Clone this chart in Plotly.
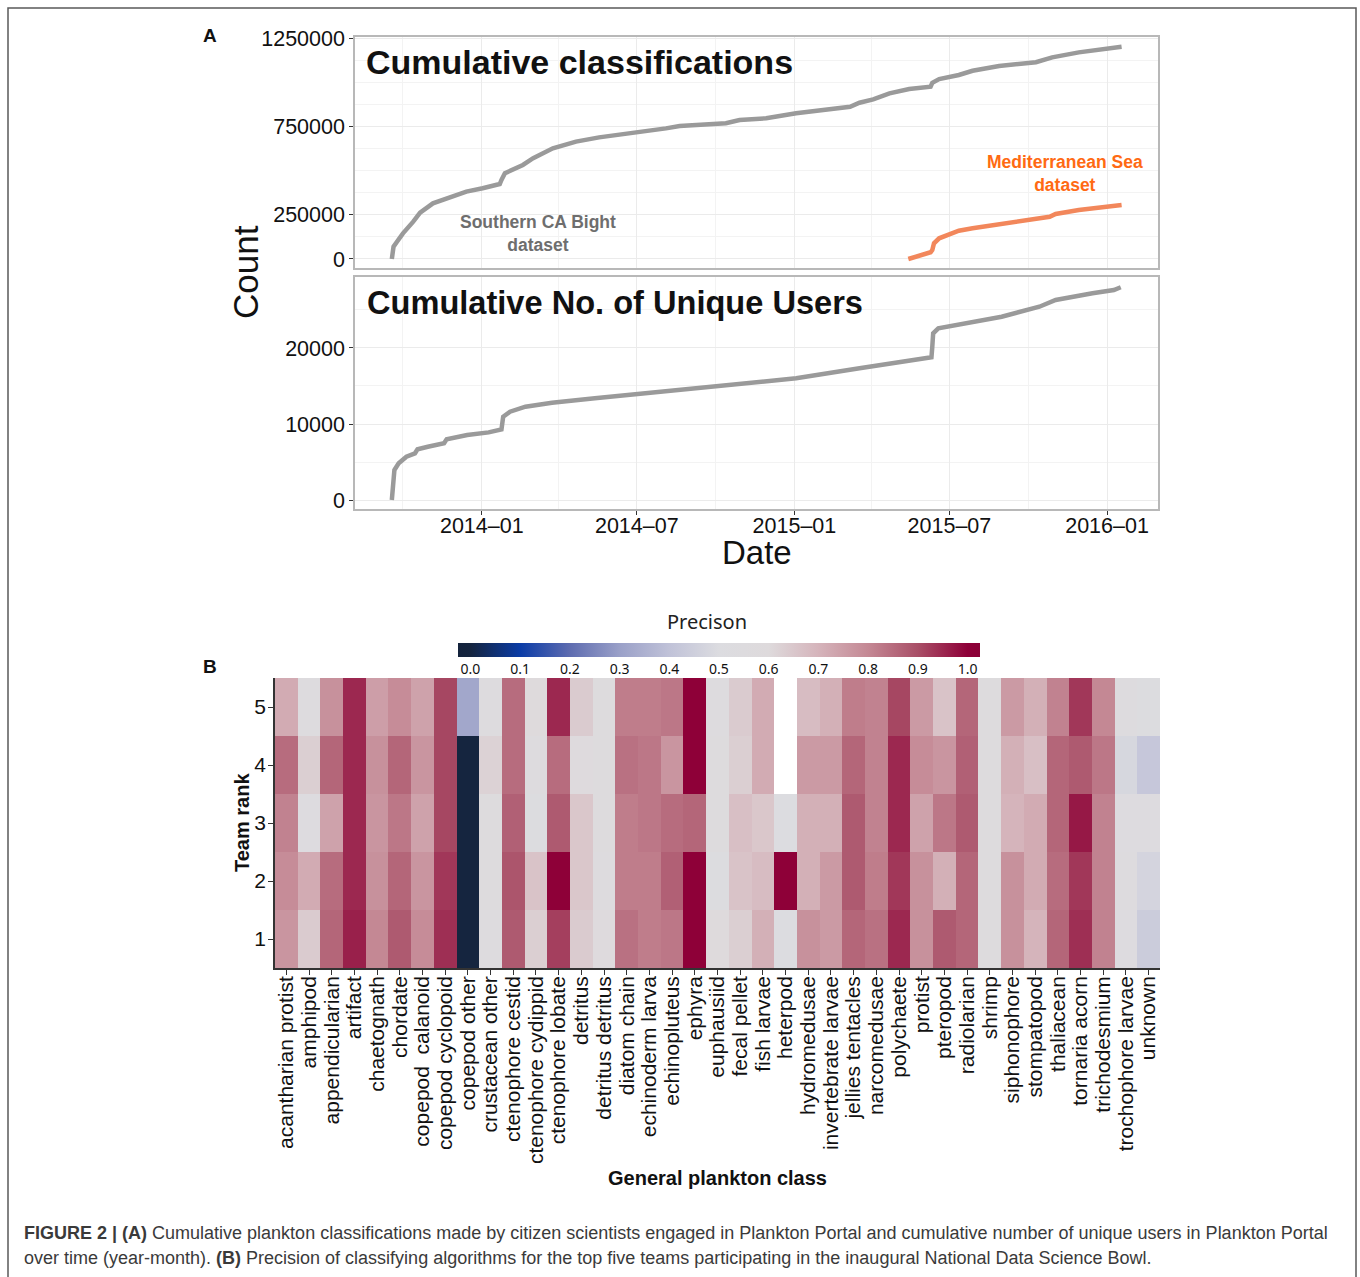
import plotly.graph_objects as go

# ---------------- data ----------------
# Panel A (top): cumulative classifications, Southern CA Bight dataset
dates_scb = ["2013-09-18", "2013-09-20", "2013-09-24", "2013-10-01", "2013-10-13", "2013-10-21",
             "2013-11-05", "2013-11-25", "2013-12-14", "2014-01-02", "2014-01-22", "2014-01-24",
             "2014-01-28", "2014-02-18", "2014-03-02", "2014-03-25", "2014-04-21", "2014-05-18",
             "2014-06-26", "2014-08-04", "2014-08-20", "2014-09-12", "2014-10-13", "2014-10-29",
             "2014-11-29", "2015-01-03", "2015-02-23", "2015-03-07", "2015-03-18", "2015-04-03",
             "2015-04-22", "2015-05-15", "2015-06-09", "2015-06-11", "2015-06-19", "2015-07-12",
             "2015-07-28", "2015-08-28", "2015-10-10", "2015-10-29", "2015-11-29", "2015-12-23",
             "2016-01-18"]
count_scb = [0, 70000, 98000, 145000, 211000, 262000,
             315000, 352000, 381000, 400000, 424000, 447000,
             485000, 532000, 570000, 626000, 664000, 688000,
             711000, 739000, 752000, 758000, 768000, 786000,
             796000, 824000, 852000, 861000, 884000, 903000,
             937000, 962000, 975000, 997000, 1018000, 1041000,
             1065000, 1092000, 1113000, 1141000, 1169000, 1186000,
             1201000]

# Mediterranean Sea dataset
dates_med = ["2015-05-14", "2015-06-09", "2015-06-11", "2015-06-13", "2015-06-19", "2015-07-04",
             "2015-07-12", "2015-07-28", "2015-08-28", "2015-10-10", "2015-10-26", "2015-11-02",
             "2015-11-29", "2016-01-18"]
count_med = [0, 38000, 51000, 89000, 117000, 145000,
             160000, 174000, 196000, 226000, 239000, 255000,
             277000, 305000]

# Panel A (bottom): cumulative number of unique users
dates_users = ["2013-09-18", "2013-09-20", "2013-09-21", "2013-09-26", "2013-10-05", "2013-10-15",
               "2013-10-18", "2013-10-30", "2013-11-18", "2013-11-21", "2013-12-15", "2014-01-09",
               "2014-01-24", "2014-01-26", "2014-02-03", "2014-02-21", "2014-03-24", "2014-05-13",
               "2014-07-14", "2014-09-26", "2015-01-03", "2015-03-18", "2015-05-13", "2015-06-10",
               "2015-06-11", "2015-06-12", "2015-06-18", "2015-07-19", "2015-08-31", "2015-10-14",
               "2015-11-02", "2015-12-15", "2016-01-09", "2016-01-17"]
users = [0, 2200, 3950, 4830, 5700, 6140,
         6670, 7010, 7460, 7980, 8550, 8900,
         9300, 10960, 11620, 12280, 12800, 13380,
         14040, 14910, 16010, 17330, 18330, 18770,
         20170, 21930, 22590, 23250, 24120, 25430,
         26320, 27200, 27630, 27990]

date_ticks = ["2014-01-01", "2014-07-01", "2015-01-01", "2015-07-01", "2016-01-01"]
date_ticktext = ["2014\u201301", "2014\u201307", "2015\u201301", "2015\u201307", "2016\u201301"]
date_minor = ["2013-10-01", "2014-04-01", "2014-10-01", "2015-04-01", "2015-10-01"]

cls_ticks = [0, 250000, 750000, 1250000]
cls_grid = [125000, 375000, 500000, 625000, 875000, 1000000, 1125000]
user_ticks = [0, 10000, 20000]
user_grid = [5000, 15000, 25000]

# Panel B: precision heatmap
classes = ["acantharian protist", "amphipod", "appendicularian", "artifact", "chaetognath",
           "chordate", "copepod\u00a0 calanoid", "copepod cyclopoid", "copepod other",
           "crustacean other", "ctenophore cestid", "ctenophore cydippid", "ctenophore lobate",
           "detritus", "detritus detritus", "diatom chain", "echinoderm larva", "echinopluteus",
           "ephyra", "euphausiid", "fecal pellet", "fish larvae", "heterpod", "hydromedusae",
           "invertebrate larvae", "jellies tentacles", "narcomedusae", "polychaete", "protist",
           "pteropod", "radiolarian", "shrimp", "siphonophore", "stompatopod", "thaliacean",
           "tornaria acorn", "trichodesmium", "trochophore larvae", "unknown"]
ranks = [1, 2, 3, 4, 5]
prec_rank1 = [.77, .64, .86, .96, .80, .88, .79, .94, 0, .55, .88, .63, .92, .64, .58, .84, .82, .83, 1.0, .60,
              .63, .71, .50, .78, .76, .86, .84, .95, .78, .88, .86, .57, .78, .70, .86, .94, .81, .53, .44]
prec_rank2 = [.79, .72, .85, .95, .78, .86, .77, .93, 0, .57, .89, .66, 1.0, .65, .55, .82, .82, .87, 1.0, .52,
              .66, .68, 1.0, .71, .76, .88, .82, .93, .78, .71, .86, .57, .78, .72, .85, .93, .81, .54, .47]
prec_rank3 = [.81, .53, .74, .95, .77, .83, .74, .91, 0, .57, .87, .52, .88, .65, .57, .82, .83, .85, .86, .57,
              .67, .65, .50, .71, .71, .88, .81, .95, .74, .83, .88, .57, .70, .72, .86, .97, .81, .53, .53]
prec_rank4 = [.85, .63, .86, .95, .78, .86, .77, .91, 0, .62, .85, .55, .85, .58, .57, .84, .83, .77, 1.0, .57,
              .63, .72, None, .76, .76, .86, .81, .95, .79, .77, .87, .57, .71, .67, .86, .88, .83, .48, .42]
prec_rank5 = [.72, .55, .78, .95, .75, .79, .74, .91, .32, .55, .85, .60, .95, .64, .57, .82, .82, .83, 1.0, .55,
              .64, .72, None, .68, .71, .82, .81, .91, .76, .66, .86, .57, .76, .71, .81, .93, .80, .55, .52]
cbar_ticks = [0.0, 0.1, 0.2, 0.3, 0.4, 0.5, 0.6, 0.7, 0.8, 0.9, 1.0]

# ---------------- styling helpers ----------------
W, H = 1360, 1277


def fx(p):
    return p / W


def fy(p):
    return 1 - p / H


FONT = "Liberation Sans, Arial, Helvetica, sans-serif"
GRID = "#ebebeb"
MINOR_GRID = "#f3f3f3"
BORDER = "#b8b8b8"
TICKC = "#333333"
TICKFONT = dict(family=FONT, size=21.5, color="#111111")

ZMIN, ZMAX = -0.025, 1.025
anchors = [(-0.025, "#14233c"), (0.0, "#15253f"), (0.1, "#0b3ca6"), (0.2, "#5e6cb0"),
           (0.3, "#9aa0c8"), (0.4, "#c0c2d8"), (0.5, "#dcdce0"), (0.6, "#dedadc"),
           (0.7, "#d5b4bb"), (0.8, "#c48894"), (0.9, "#a94f67"), (1.0, "#8e0038"),
           (1.025, "#8a0036")]
colorscale = [[(v - ZMIN) / (ZMAX - ZMIN), c] for v, c in anchors]

fig = go.Figure()

fig.add_trace(go.Scatter(x=dates_scb, y=count_scb, mode="lines",
                         line=dict(color="#9a9a9a", width=4.5), xaxis="x", yaxis="y",
                         showlegend=False, hoverinfo="skip"))
fig.add_trace(go.Scatter(x=dates_med, y=count_med, mode="lines",
                         line=dict(color="#f2875b", width=4.5), xaxis="x", yaxis="y",
                         showlegend=False, hoverinfo="skip"))
fig.add_trace(go.Scatter(x=dates_users, y=users, mode="lines",
                         line=dict(color="#9a9a9a", width=4.5), xaxis="x2", yaxis="y2",
                         showlegend=False, hoverinfo="skip"))

fig.add_trace(go.Heatmap(
    z=[prec_rank1, prec_rank2, prec_rank3, prec_rank4, prec_rank5],
    x=classes, y=ranks, xaxis="x3", yaxis="y3",
    zmin=ZMIN, zmax=ZMAX, colorscale=colorscale, hoverongaps=False,
    colorbar=dict(orientation="h", x=fx(719), xanchor="center", y=fy(643), yanchor="top",
                  len=522, lenmode="pixels", thickness=14, outlinewidth=0,
                  xpad=0, ypad=0, ticks="",
                  tickvals=cbar_ticks, ticktext=["%.1f" % t for t in cbar_ticks],
                  tickfont=dict(family="Noto Sans, Arial, sans-serif", size=14, color="#111111")),
))

x_date_range = ["2013-08-06", "2016-02-29T12:00"]

common_date_axis = dict(type="date", range=x_date_range, tickvals=date_ticks, ticktext=date_ticktext,
                        showgrid=True, gridcolor=GRID, gridwidth=1,
                        minor=dict(tickvals=date_minor, showgrid=True, gridcolor=MINOR_GRID, gridwidth=1),
                        showline=True, mirror=True, linecolor=BORDER, linewidth=1.5,
                        zeroline=False, tickfont=TICKFONT, automargin=False)

fig.update_layout(
    template="none",
    width=W, height=H, margin=dict(l=0, r=0, t=0, b=0, pad=0, autoexpand=False),
    paper_bgcolor="white", plot_bgcolor="white", showlegend=False,
    font=dict(family=FONT, color="#111111"),
    xaxis=dict(domain=[fx(355), fx(1158)], anchor="y", showticklabels=False, ticks="",
               **common_date_axis),
    yaxis=dict(domain=[fy(268), fy(37)], anchor="x", range=[-51000, 1256000],
               tickvals=cls_ticks, ticktext=[str(v) for v in cls_ticks],
               ticks="outside", ticklen=4, tickcolor=TICKC, tickwidth=1,
               showgrid=True, gridcolor=GRID,
               minor=dict(tickvals=cls_grid, showgrid=True, gridcolor=MINOR_GRID),
               showline=True, mirror=True, linecolor=BORDER, linewidth=1.5, zeroline=False,
               tickfont=TICKFONT, automargin=False),
    xaxis2=dict(domain=[fx(355), fx(1158)], anchor="y2", ticks="outside", ticklen=4,
                tickcolor=TICKC, tickwidth=1, ticklabelstandoff=-8, **common_date_axis),
    yaxis2=dict(domain=[fy(509), fy(277)], anchor="x2", range=[-1184, 29340],
                tickvals=user_ticks, ticktext=[str(v) for v in user_ticks],
                ticks="outside", ticklen=4, tickcolor=TICKC, tickwidth=1,
                showgrid=True, gridcolor=GRID,
                minor=dict(tickvals=user_grid, showgrid=True, gridcolor=MINOR_GRID),
                showline=True, mirror=True, linecolor=BORDER, linewidth=1.5, zeroline=False,
                tickfont=TICKFONT, automargin=False),
    xaxis3=dict(domain=[fx(275), fx(1160)], anchor="y3", type="category", tickangle=-90,
                tickmode="array", tickvals=classes, ticktext=classes,
                ticks="outside", ticklen=5, tickcolor=TICKC, tickwidth=1, ticklabelstandoff=-7,
                showline=True, linecolor="#333333", linewidth=1.5, showgrid=False, zeroline=False,
                tickfont=dict(family=FONT, size=21, color="#111111"), automargin=False),
    yaxis3=dict(domain=[fy(968), fy(678)], anchor="x3", range=[0.5, 5.5], tickvals=ranks,
                ticks="outside", ticklen=5, tickcolor=TICKC, tickwidth=1, ticklabelstandoff=-2,
                showline=True, linecolor="#333333", linewidth=1.5, showgrid=False, zeroline=False,
                tickfont=dict(family=FONT, size=21, color="#111111"), automargin=False),
)

ann = []


def add_text(x, y, text, size, color="#111111", bold=False, xanchor="center", yanchor="middle",
             angle=0, family=FONT, align="center"):
    t = "<b>%s</b>" % text if bold else text
    ann.append(dict(x=fx(x), y=fy(y), xref="paper", yref="paper", text=t, showarrow=False,
                    xanchor=xanchor, yanchor=yanchor, textangle=angle, align=align,
                    font=dict(family=family, size=size, color=color)))


add_text(210, 35, "A", 19, bold=True)
add_text(210, 667, "B", 19, bold=True)
add_text(364, 62, "Cumulative classifications", 34, bold=True, xanchor="left")
add_text(365, 302, "Cumulative No. of Unique Users", 32.6, bold=True, xanchor="left")
add_text(538, 234, "Southern CA Bight<br>dataset", 17.5, color="#6e6e6e", bold=True)
add_text(1065, 173, "Mediterranean Sea<br>dataset", 17.5, color="#ff6a13", bold=True)
add_text(245, 272, "Count", 35, angle=-90)
add_text(757, 552, "Date", 33)
add_text(707, 621, "Precison", 20, family="Noto Sans, Open Sans, sans-serif", color="#222222")
add_text(242, 823, "Team rank", 20, bold=True, angle=-90)
add_text(717, 1178, "General plankton class", 20, bold=True)
add_text(22, 1233, "<b>FIGURE 2 | (A)</b> Cumulative plankton classifications made by citizen scientists "
                   "engaged in Plankton Portal and cumulative number of unique users in Plankton Portal",
         18, color="#3a3a3a", xanchor="left", align="left")
add_text(22, 1258, "over time (year-month). <b>(B)</b> Precision of classifying algorithms for the top five "
                   "teams participating in the inaugural National Data Science Bowl.",
         18, color="#3a3a3a", xanchor="left", align="left")

fig.update_layout(annotations=ann)

fig.add_shape(type="rect", xref="paper", yref="paper", x0=fx(8), x1=fx(1356), y0=fy(1300), y1=fy(8),
              line=dict(color="#5a5a5a", width=1.5), fillcolor="rgba(0,0,0,0)", layer="above")

fig.write_html("out.html", config={"displayModeBar": False},
               post_script="document.body.style.margin='0px';document.body.style.padding='0px';")
